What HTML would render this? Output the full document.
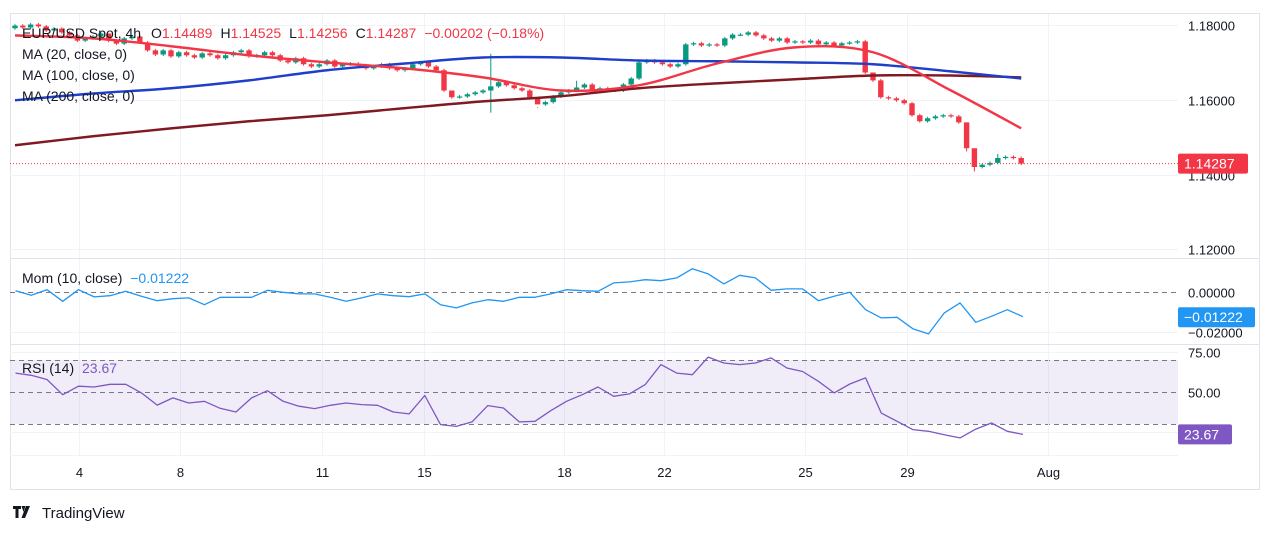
<!DOCTYPE html>
<html><head><meta charset="utf-8">
<style>
html,body{margin:0;padding:0;background:#fff;width:1273px;height:534px;overflow:hidden;font-family:"Liberation Sans",sans-serif;}
svg text{font-family:"Liberation Sans",sans-serif;}
</style></head>
<body>
<svg id="chart" width="1273" height="534" xmlns="http://www.w3.org/2000/svg">
  <rect x="10.5" y="13.5" width="1249" height="476" fill="#fff" stroke="#e0e3eb"/>
  <g id="grid"></g>
  <rect x="11" y="360" width="1167" height="64" fill="#7e57c2" fill-opacity="0.11"/>
  <line x1="10" y1="258.5" x2="1260" y2="258.5" stroke="#e0e3eb"/>
  <line x1="10" y1="344.5" x2="1260" y2="344.5" stroke="#e0e3eb"/>
  <line x1="10" y1="455.5" x2="1178" y2="455.5" stroke="#f0f3fa"/>
  <g id="marks"></g>
  <g id="labels"></g>
  <g font-size="14" fill="#131722">
    <text x="22" y="38">EUR/USD Spot, 4h <tspan dx="6">O</tspan><tspan fill="#f23645">1.14489</tspan><tspan dx="8">H</tspan><tspan fill="#f23645">1.14525</tspan><tspan dx="8">L</tspan><tspan fill="#f23645">1.14256</tspan><tspan dx="8">C</tspan><tspan fill="#f23645">1.14287</tspan><tspan dx="8" fill="#f23645">−0.00202 (−0.18%)</tspan></text>
    <text x="22" y="59">MA (20, close, 0)</text>
    <text x="22" y="80">MA (100, close, 0)</text>
    <text x="22" y="101">MA (200, close, 0)</text>
    <text x="22" y="283">Mom (10, close) <tspan dx="4" fill="#2196f3">−0.01222</tspan></text>
    <text x="22" y="373">RSI (14) <tspan dx="4" fill="#7e57c2">23.67</tspan></text>
  </g>
  <g>
    <path d="M13 506h8v3h-2.5v9h-3v-9H13z M21.5 506h4l-2 6z M26 506h4l-5 12h-3.5z" fill="#131722"/>
    <text x="42" y="518" font-size="15" fill="#131722">TradingView</text>
  </g>
</svg>
<script>
const closes=[1.1797,1.1792,1.1800,1.1795,1.1784,1.1789,1.1779,1.1771,1.1757,1.1763,1.1768,
1.1776,1.1757,1.1749,1.1763,1.1768,1.1752,1.1731,1.1720,1.1731,1.1715,1.1726,1.1718,1.1712,1.1723,1.1718,
1.1710,1.1718,1.1726,1.1731,1.1715,1.1718,1.1726,1.1718,1.1704,1.1699,1.1710,1.1694,1.1688,1.1694,1.1704,
1.1688,1.1694,1.1696,1.1691,1.1683,1.1688,1.1694,1.1683,1.1678,1.1683,1.1694,1.1699,1.1688,1.1678,1.1624,
1.1606,1.1608,1.1614,1.1619,1.1624,1.1635,1.1646,1.1638,1.1630,1.1624,1.1606,1.1587,1.1593,1.1608,1.1619,1.1624,1.1632,
1.1640,1.1624,1.1630,1.1627,1.1624,1.1640,1.1656,1.1699,1.1704,1.1699,1.1694,1.1688,1.1694,
1.1747,1.1750,1.1744,1.1747,1.1744,1.1763,1.1773,1.1773,1.1779,1.1771,1.1763,1.1757,
1.1763,1.1752,1.1755,1.1752,1.1757,1.1747,1.1752,1.1744,1.1750,1.1752,1.1755,1.1672,
1.1651,1.1606,1.1603,1.1598,1.1590,1.1558,1.1542,1.1550,1.1555,1.1558,1.1555,1.1539,
1.1470,1.1420,1.1426,1.1431,1.1444,1.1447,1.1444,1.1429];
const firstOpen=1.1790;
const highSpikes={61:1.1722,12:1.1770,56:1.1614,67:1.1580,72:1.1650,110:1.1668,122:1.1520,123:1.1425,126:1.1455};
const lowSpikes={61:1.1565,67:1.1578,122:1.1462,123:1.1408};
const ma20=[1.1771,1.1763,1.1742,1.1718,1.1699,1.1683,1.1659,1.1624,1.1638,1.1696,1.1739,1.1726,1.1624,1.1523];
const ma100=[1.1598,1.1616,1.1630,1.1651,1.1678,1.1696,1.1712,1.1712,1.1704,1.1702,1.1699,1.1694,1.1675,1.1656];
const ma200=[1.1478,1.1502,1.1523,1.1542,1.1558,1.1577,1.1595,1.1609,1.1630,1.1643,1.1654,1.1664,1.1664,1.1659];
const mom=[0.0008,-0.0015,0.0013,-0.0045,0.0013,-0.0023,-0.0017,0.0005,-0.0020,-0.0042,-0.0032,-0.0028,-0.0062,
-0.0025,-0.0025,-0.0025,0.0010,0.0000,-0.0008,-0.0008,-0.0025,-0.0045,-0.0028,-0.0008,-0.0017,-0.0022,-0.0008,
-0.0062,-0.0078,-0.0053,-0.0037,-0.0045,-0.0025,-0.0025,-0.0008,0.0013,0.0008,0.0005,0.0047,0.0052,0.0063,0.0058,
0.0072,0.0118,0.0092,0.0042,0.0085,0.0072,0.0010,0.0017,0.0017,-0.0042,-0.0020,0.0000,-0.0087,-0.0128,-0.0125,
-0.0182,-0.0208,-0.0103,-0.0053,-0.0150,-0.0120,-0.0087,-0.0122];
const rsi=[62,60.6,58,48.5,53.8,53.3,55,55,49.6,42,46.5,43.3,44.4,40,37.7,46.5,51,44.4,41.3,39.8,41.9,43.3,42.3,41.9,
37.7,36.5,48,29.8,28.7,31.5,41.7,40.2,31.5,31.9,38.5,44.4,48.5,53.3,47.5,49,54.8,67.3,62,61,72,68.3,67.3,68.3,71.5,
65.2,63,56.9,49.6,55.2,59,37,31.9,26.7,25.6,23.5,21.5,27,30.8,25.6,23.67];
const dateLabels=["4","8","11","15","18","22","25","29","Aug"];
const dateBars=[8.2,21.2,39.4,52.4,70.4,83.2,101.3,114.4,132.4];
const priceTicks=[1.18,1.16,1.14,1.12];
const momTicks=[0.00,-0.02];
const rsiTicks=[75,50];

const NS="http://www.w3.org/2000/svg";
const X0=15,DX=7.8;
const xBar=i=>X0+i*DX;
const yP=p=>24.5+(1.18-p)*3750;
const yM=v=>292.3-v*2000;
const yR=r=>392.3-(r-50)*1.6;
function mk(tag,attrs,parent){const e=document.createElementNS(NS,tag);for(const k in attrs)e.setAttribute(k,attrs[k]);parent.appendChild(e);return e;}
const grid=document.getElementById('grid'),marks=document.getElementById('marks'),labels=document.getElementById('labels');

dateBars.forEach((b,i)=>{
  const x=Math.round(xBar(b))+0.5;
  const l=mk('line',{x1:x,y1:14,x2:x,y2:455,stroke:'#f0f3fa'},grid);
  
  
  const t=mk('text',{x:x,y:477,'font-size':13,fill:'#131722','text-anchor':'middle'},labels);
  t.textContent=dateLabels[i];
  
  
});
priceTicks.forEach(p=>{
  const y=Math.round(yP(p))+0.5;
  const l=mk('line',{x1:10,y1:y,x2:1178,y2:y,stroke:'#f0f3fa'},grid);
  
  
  const t=mk('text',{x:1188,y:y+5,'font-size':13,fill:'#131722'},labels);
  t.textContent=p.toFixed(5);
  
  
});
momTicks.forEach(v=>{
  const y=Math.round(yM(v))+0.5;
  const l=mk('line',{x1:10,y1:y,x2:1178,y2:y,stroke:v===0?'#787b86':'#f0f3fa','stroke-dasharray':v===0?'5,4':'none'},grid);
  
  
  const t=mk('text',{x:1188,y:y+5,'font-size':13,fill:'#131722'},labels);
  t.textContent=(v<0?'−':'')+Math.abs(v).toFixed(5);
  
  
});
[70,50,30].forEach(r=>{
  const y=Math.round(yR(r))+0.5;
  const l=mk('line',{x1:10,y1:y,x2:1178,y2:y,stroke:'#787b86','stroke-dasharray':'5,4'},grid);
  
  
});
[75,25].forEach(r=>{
  const y=Math.round(yR(r))+0.5;
  const l=mk('line',{x1:10,y1:y,x2:1178,y2:y,stroke:'#f0f3fa'},grid);
  
  
});
rsiTicks.forEach(r=>{
  const t=mk('text',{x:1188,y:yR(r)+5,'font-size':13,fill:'#131722'},labels);
  t.textContent=r.toFixed(2);
  
  
});
const vl=mk('line',{x1:1048.5,y1:14,x2:1048.5,y2:455,stroke:'#f0f3fa'},grid);

// candles
closes.forEach((c,i)=>{
  const o=i===0?firstOpen:closes[i-1];
  const up=c>=o;
  const col=up?'#089981':'#f23645';
  const h=highSpikes[i]!==undefined?highSpikes[i]:Math.max(o,c)+0.0004;
  const l=lowSpikes[i]!==undefined?lowSpikes[i]:Math.min(o,c)-0.0004;
  const x=xBar(i);
  const g=mk('g',{},marks);
  
  
  mk('line',{x1:x,y1:yP(h),x2:x,y2:yP(l),stroke:col,'stroke-width':1},g);
  const yt=Math.min(yP(o),yP(c)),bh=Math.max(1.2,Math.abs(yP(o)-yP(c)));
  mk('rect',{x:x-2.7,y:yt,width:5.4,height:bh,fill:col},g);
});
function smoothPath(pts){
  let d='M'+pts[0][0]+','+pts[0][1];
  for(let i=0;i<pts.length-1;i++){
    const p0=pts[i-1]||pts[i],p1=pts[i],p2=pts[i+1],p3=pts[i+2]||p2;
    const c1x=p1[0]+(p2[0]-p0[0])/6,c1y=p1[1]+(p2[1]-p0[1])/6;
    const c2x=p2[0]-(p3[0]-p1[0])/6,c2y=p2[1]-(p3[1]-p1[1])/6;
    d+=' C'+c1x+','+c1y+' '+c2x+','+c2y+' '+p2[0]+','+p2[1];
  }
  return d;
}
function maLine(arr,col,name){
  const n=arr.length,last=closes.length-1;
  const pts=arr.map((v,k)=>[xBar(Math.min(k*10,last)),yP(v)]);
  const p=mk('path',{d:smoothPath(pts),fill:'none',stroke:col,'stroke-width':2.4,'stroke-linejoin':'round'},marks);
  
  
}
maLine(ma200,'#801922','ma200-line');
maLine(ma100,'#1e3fc8','ma100-line');
maLine(ma20,'#f23645','ma20-line');

function indLine(arr,yf,col,name){
  const step=(1023-15.5)/(arr.length-1);
  const d=arr.map((v,k)=>(k?'L':'M')+(15.5+k*step).toFixed(1)+','+yf(v).toFixed(1)).join(' ');
  const p=mk('path',{d:d,fill:'none',stroke:col,'stroke-width':1.3,'stroke-linejoin':'round'},marks);
  
  
}
indLine(mom,yM,'#2196f3','momentum-line');
indLine(rsi,yR,'#7e57c2','rsi-line');

// last price line and tags
const lc=closes[closes.length-1];
const ly=yP(lc);
const pl=mk('line',{x1:10,y1:ly,x2:1178,y2:ly,stroke:'#f23645','stroke-dasharray':'1,2'},marks);


function tag(y,w,col,txt,name){
  const g=mk('g',{},labels);
  
  
  mk('rect',{x:1178,y:y-10,width:w,height:20,rx:2,fill:col},g);
  const t=mk('text',{x:1184,y:y+5,'font-size':14,fill:'#fff'},g);
  t.textContent=txt;
}
tag(ly,70,'#f23645','1.14287','last-price-tag');
tag(yM(mom[mom.length-1])+0.5,77,'#2196f3','−0.01222','mom-value-tag');
tag(yR(rsi[rsi.length-1]),54,'#7e57c2','23.67','rsi-value-tag');
</script>
</body></html>
